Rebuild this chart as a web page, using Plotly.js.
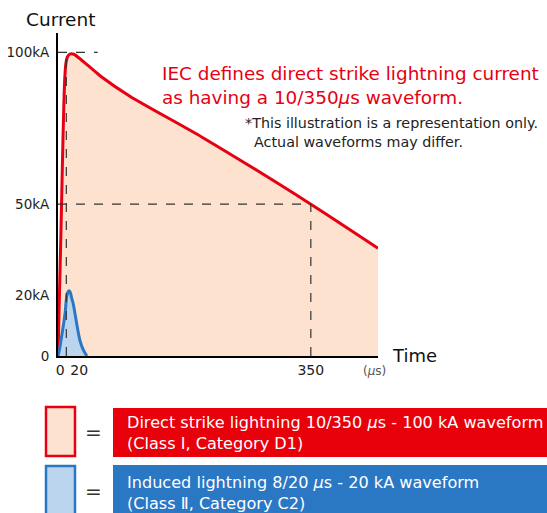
<!DOCTYPE html>
<html>
<head>
<meta charset="utf-8">
<script src="https://cdn.plot.ly/plotly-3.0.1.min.js"></script>
<style>html,body{margin:0;padding:0;background:#fff;}#chart{width:547px;height:513px;}</style>
</head>
<body>
<div id="chart"></div>
<script>
// ---- data ----
const directTime = [0, 2, 4, 6, 8, 9.5, 11, 13, 16, 22, 30, 45, 60, 100, 200, 350, 443];
const directCurrent = [0, 20, 40, 62, 82, 92, 96.5, 98.5, 99.4, 99.4, 98, 95, 92, 85.5, 72, 50, 35.5];
const inducedTime = [0, 2, 5, 8, 10, 12, 14, 15.5, 17, 19, 21, 23.5, 26, 30, 35, 40];
const inducedCurrent = [0, 2, 6.4, 11, 14.5, 19.5, 21.2, 21.5, 21, 19, 17.3, 14, 10.5, 5.5, 2, 0];
const yTickVals = [0, 20, 50, 100];
const yTickText = ['0', '20kA', '50kA', '100kA'];
const xTickVals = [0, 20, 350];
const xTickText = ['0', '20', '350'];
const peakTime = 11.5, peakCurrent = 100, halfTime = 350, halfCurrent = 50;

// ---- layout helpers (pixel -> paper) ----
const L = 58, R = 378, T = 33, B = 356;
const PX = p => (p - L) / (R - L);
const PY = p => (B - p) / (B - T);
const FONT = 'DejaVu Sans, Noto Sans CJK JP, sans-serif';
const RED = '#E60012', BLUE = '#2A77C4';
const NB = '\u00a0';
// left padding (in no-break spaces) to separate the two crowded labels near the origin
const xTickPad = [1, 3, 0];
const xTickLabels = xTickText.map((t, i) => NB.repeat(xTickPad[i]) + t);

const traces = [
  {x: directTime, y: directCurrent, type: 'scatter', mode: 'lines', line: {color: RED, width: 3, shape: 'spline', smoothing: 0.6},
   fill: 'tozeroy', fillcolor: '#FDE2CF', hoverinfo: 'skip'},
  {x: inducedTime, y: inducedCurrent, type: 'scatter', mode: 'lines', line: {color: BLUE, width: 3, shape: 'spline', smoothing: 0.8},
   fill: 'tozeroy', fillcolor: '#BCD5EE', hoverinfo: 'skip'}
];

const dash = {color: '#333', width: 1.2, dash: 'dash'};
const shapes = [
  {type: 'line', xref: 'x', yref: 'y', x0: 0, x1: 55, y0: peakCurrent, y1: peakCurrent, line: dash, layer: 'above'},
  {type: 'line', xref: 'x', yref: 'y', x0: peakTime, x1: peakTime, y0: 0, y1: peakCurrent, line: dash, layer: 'above'},
  {type: 'line', xref: 'x', yref: 'y', x0: 0, x1: halfTime, y0: halfCurrent, y1: halfCurrent, line: dash, layer: 'above'},
  {type: 'line', xref: 'x', yref: 'y', x0: halfTime, x1: halfTime, y0: 0, y1: halfCurrent, line: dash, layer: 'above'},
  // legend boxes
  {type: 'rect', xref: 'paper', yref: 'paper', x0: PX(46), x1: PX(75), y0: PY(456), y1: PY(407), line: {color: RED, width: 2.5}, fillcolor: '#FDE2CF'},
  {type: 'rect', xref: 'paper', yref: 'paper', x0: PX(46), x1: PX(75), y0: PY(520), y1: PY(466), line: {color: BLUE, width: 2.5}, fillcolor: '#BCD5EE'},
  {type: 'rect', xref: 'paper', yref: 'paper', x0: PX(113), x1: PX(550), y0: PY(457), y1: PY(408), line: {width: 0}, fillcolor: '#E8000B'},
  {type: 'rect', xref: 'paper', yref: 'paper', x0: PX(113), x1: PX(550), y0: PY(520), y1: PY(465), line: {width: 0}, fillcolor: '#2A77C4'}
];

const ann = (px, py, text, size, color, extra) => Object.assign({xref: 'paper', yref: 'paper', x: PX(px), y: PY(py), text: text,
  showarrow: false, xanchor: 'left', yanchor: 'middle', align: 'left', font: {family: FONT, size: size, color: color}}, extra || {});

const annotations = [
  ann(24, 20, 'Current', 18.5, '#111'),
  ann(390, 355, 'Time', 18, '#111'),
  ann(361, 371, '(<i>μ</i>s)', 12, '#555'),
  ann(160, 85, 'IEC defines direct strike lightning current<br>as having a 10/350<i>μ</i>s waveform.', 18.4, RED),
  ann(243, 132, '*This illustration is a representation only.<br>  Actual waveforms may differ.', 14.3, '#222'),
  ann(83, 432, '=', 20, '#333'),
  ann(83, 491, '=', 20, '#333'),
  ann(125, 433, 'Direct strike lightning 10/350 <i>μ</i>s - 100 kA waveform<br>(Class I, Category D1)', 16.1, '#fff'),
  ann(125, 493, 'Induced lightning 8/20 <i>μ</i>s - 20 kA waveform<br>(Class Ⅱ, Category C2)', 16.1, '#fff')
];

const layout = {
  width: 547, height: 513,
  margin: {l: L, r: 547 - R, t: T, b: 513 - B, pad: 0},
  paper_bgcolor: '#fff', plot_bgcolor: '#fff',
  showlegend: false,
  xaxis: {range: [0, 443], showgrid: false, zeroline: false, showline: true, linecolor: '#000', linewidth: 2,
    tickvals: xTickVals, ticktext: xTickLabels, ticks: '', tickangle: 0, tickfont: {family: FONT, size: 14, color: '#222'}, fixedrange: true},
  yaxis: {range: [0, 106.4], showgrid: false, zeroline: false, showline: true, linecolor: '#000', linewidth: 2,
    tickvals: yTickVals, ticktext: yTickText, ticks: '', ticklabelstandoff: 4, tickfont: {family: FONT, size: 13.5, color: '#222'}, fixedrange: true},
  shapes: shapes,
  annotations: annotations
};

Plotly.newPlot('chart', traces, layout, {displayModeBar: false, staticPlot: true});
</script>
</body>
</html>
